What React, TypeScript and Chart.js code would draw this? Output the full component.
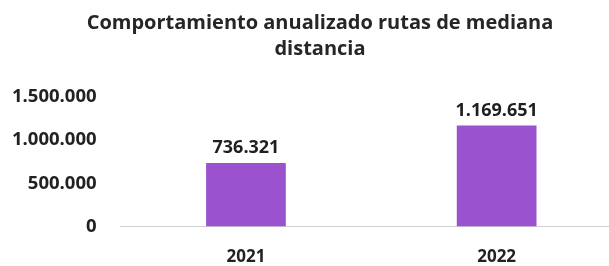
import React, { useEffect, useRef } from "react";
import { Chart, registerables } from "chart.js";

Chart.register(...registerables);

const titleLines = ["Comportamiento anualizado rutas de mediana", "distancia"];
const categories = ["2021", "2022"];
const values = [736321, 1169651];
const yMin = 0;
const yMax = 1500000;
const yStep = 500000;

const fmt = (v: number) => String(Math.round(v)).replace(/\B(?=(\d{3})+(?!\d))/g, ".");

const FONT = "'Open Sans', sans-serif";

const valueLabels = {
  id: "valueLabels",
  afterDatasetsDraw(chart: any) {
    const ctx = chart.ctx;
    const meta = chart.getDatasetMeta(0);
    ctx.save();
    ctx.font = `bold 18px ${FONT}`;
    ctx.fillStyle = "#1f1f1f";
    ctx.textAlign = "center";
    ctx.textBaseline = "middle";
    meta.data.forEach((bar: any, i: number) => {
      ctx.fillText(fmt(values[i]), bar.x, bar.y - 15);
    });
    ctx.restore();
  },
};

const centeredTitle = {
  id: "centeredTitle",
  afterDraw(chart: any) {
    const ctx = chart.ctx;
    ctx.save();
    ctx.font = `bold 20px ${FONT}`;
    ctx.fillStyle = "#262626";
    ctx.textAlign = "center";
    ctx.textBaseline = "middle";
    titleLines.forEach((line, i) => {
      ctx.fillText(line, 320, 23 + i * 26);
    });
    ctx.restore();
  },
};

export default function App() {
  const ref = useRef<HTMLCanvasElement | null>(null);
  useEffect(() => {
    document.body.style.overflow = "hidden";
    const chart = new Chart(ref.current!, {
      type: "bar",
      data: {
        labels: categories,
        datasets: [
          {
            data: values,
            backgroundColor: "#9a52cf",
            categoryPercentage: 1,
            barPercentage: 0.318,
          },
        ],
      },
      options: {
        responsive: false,
        animation: false,
        layout: { padding: { left: -12, right: 18, top: 97, bottom: -21 } },
        plugins: {
          legend: { display: false },
          tooltip: { enabled: false },
          title: { display: false },
        },
        scales: {
          x: {
            grid: { display: false, drawTicks: false },
            border: { display: true, color: "#d0d0d0", dash: [4, 4] },
            ticks: {
              color: "#222",
              font: { family: FONT, size: 17, weight: "bold" },
              padding: 20,
            },
          },
          y: {
            min: yMin,
            max: yMax,
            grid: { display: false, drawTicks: false },
            border: { display: false },
            ticks: {
              stepSize: yStep,
              color: "#222",
              font: { family: FONT, size: 18.5, weight: "bold" },
              padding: 24,
              callback: (v: any) => fmt(Number(v)),
            },
          },
        },
      },
      plugins: [valueLabels, centeredTitle],
    });
    return () => chart.destroy();
  }, []);
  return (
    <div style={{ position: "fixed", left: 0, top: 0, width: 640, height: 266, background: "#fff" }}>
      <canvas ref={ref} width={640} height={266} />
    </div>
  );
}
